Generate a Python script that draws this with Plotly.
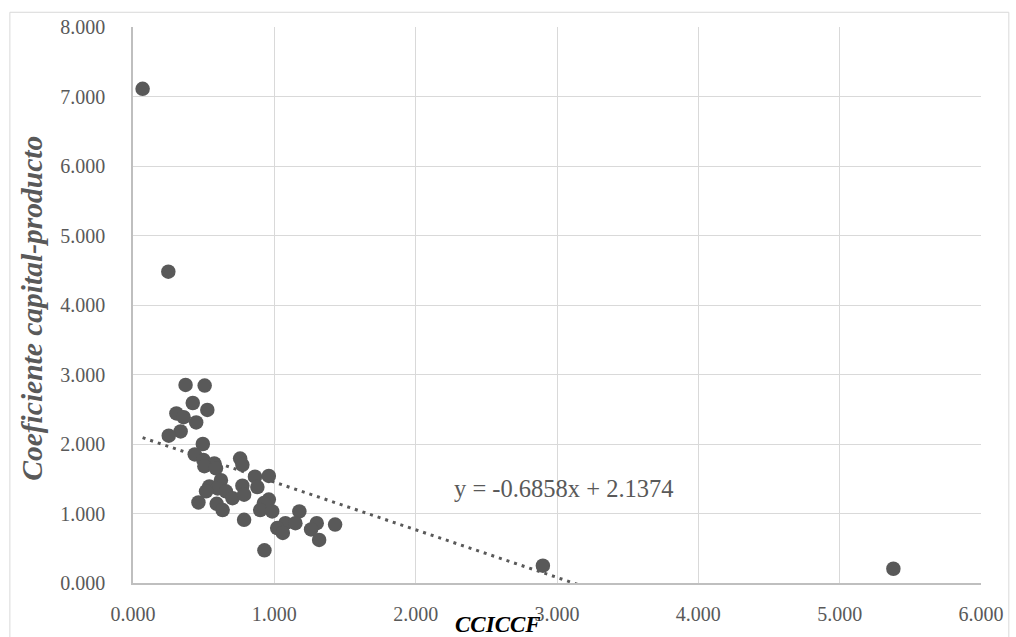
import plotly.graph_objects as go

# Data
cciccf = [0.068, 0.25, 2.90, 5.38,
          0.372, 0.507, 0.423, 0.526, 0.307, 0.358, 0.447, 0.337, 0.253, 0.494,
          0.437, 0.498, 0.575, 0.505, 0.587, 0.758, 0.774, 0.622, 0.54, 0.599,
          0.863, 0.961, 0.774, 0.88, 0.517, 0.657, 0.704, 0.786, 0.961, 0.926,
          0.463, 0.592, 0.634, 0.90, 0.985, 0.786, 1.177, 1.078, 1.149, 1.02,
          1.06, 1.30, 1.43, 1.26, 1.317, 0.93]
coef_kp = [7.11, 4.48, 0.25, 0.205,
           2.85, 2.84, 2.59, 2.49, 2.44, 2.385, 2.31, 2.18, 2.12, 2.00,
           1.85, 1.77, 1.72, 1.68, 1.65, 1.79, 1.70, 1.48, 1.39, 1.36,
           1.53, 1.54, 1.40, 1.38, 1.32, 1.32, 1.22, 1.27, 1.20, 1.15,
           1.16, 1.14, 1.05, 1.05, 1.03, 0.91, 1.03, 0.86, 0.86, 0.79,
           0.72, 0.86, 0.84, 0.77, 0.62, 0.47]

trend_slope = -0.6858
trend_intercept = 2.1374
trend_label = "y = -0.6858x + 2.1374"

x_ticks = [0, 1, 2, 3, 4, 5, 6]
y_ticks = [0, 1, 2, 3, 4, 5, 6, 7, 8]

x_title = "CCICCF"
y_title = "Coeficiente capital-producto"

GRAY = "#595959"
GRID = "#d9d9d9"
FONT = "Liberation Serif"

x_lo, x_hi = min(cciccf), max(cciccf)
trend_x = [x_lo, x_hi]
trend_y = [trend_intercept + trend_slope * v for v in trend_x]

fig = go.Figure()
fig.add_trace(go.Scatter(
    x=trend_x, y=trend_y, mode="lines",
    line=dict(color=GRAY, width=3, dash="3px,5px"),
    hoverinfo="skip", showlegend=False))
fig.add_trace(go.Scatter(
    x=cciccf, y=coef_kp, mode="markers",
    marker=dict(color=GRAY, size=14.5, line=dict(width=0)),
    cliponaxis=False, showlegend=False))

fig.add_annotation(x=3.05, y=1.365, xref="x", yref="y", text=trend_label,
                   showarrow=False, font=dict(family=FONT, size=24.5, color=GRAY))

fig.add_annotation(x=0.431, y=-0.0755, xref="paper", yref="paper", text="<b><i>" + x_title + "</i></b>",
                   showarrow=False, yanchor="middle", xanchor="center",
                   font=dict(family=FONT, size=23, color="#000000"))
fig.add_annotation(x=-0.1194, y=0.4946, xref="paper", yref="paper", text="<b><i>" + y_title + "</i></b>",
                   showarrow=False, textangle=-90, xanchor="center", yanchor="middle",
                   font=dict(family=FONT, size=29.5, color=GRAY))

# outer chart border
fig.add_shape(type="rect", xref="paper", yref="paper",
              x0=-0.1452, x1=1.0328, y0=-0.3, y1=1.0265,
              line=dict(color=GRID, width=1), layer="below")

fig.update_xaxes(range=[0, 6], tickvals=x_ticks, tickformat=".3f",
                 showgrid=True, gridcolor=GRID, gridwidth=1,
                 showline=True, linecolor="#bfbfbf", linewidth=1.5,
                 zeroline=False, ticks="", ticklabelstandoff=12,
                 tickfont=dict(family=FONT, size=20, color=GRAY))
fig.update_yaxes(range=[0, 8], tickvals=y_ticks, tickformat=".3f",
                 showgrid=True, gridcolor=GRID, gridwidth=1,
                 showline=True, linecolor="#bfbfbf", linewidth=1.5,
                 zeroline=False, ticks="", ticklabelstandoff=22,
                 tickfont=dict(family=FONT, size=20, color=GRAY))

fig.update_layout(width=1016, height=637,
                  margin=dict(l=133, r=29, t=27, b=54),
                  paper_bgcolor="white", plot_bgcolor="white",
                  showlegend=False)

# remove the default 8px page margin so the figure fills the window exactly
fig.write_html("out.html", config={"displayModeBar": False},
               post_script="document.body.style.margin='0';document.body.style.overflow='hidden';")
